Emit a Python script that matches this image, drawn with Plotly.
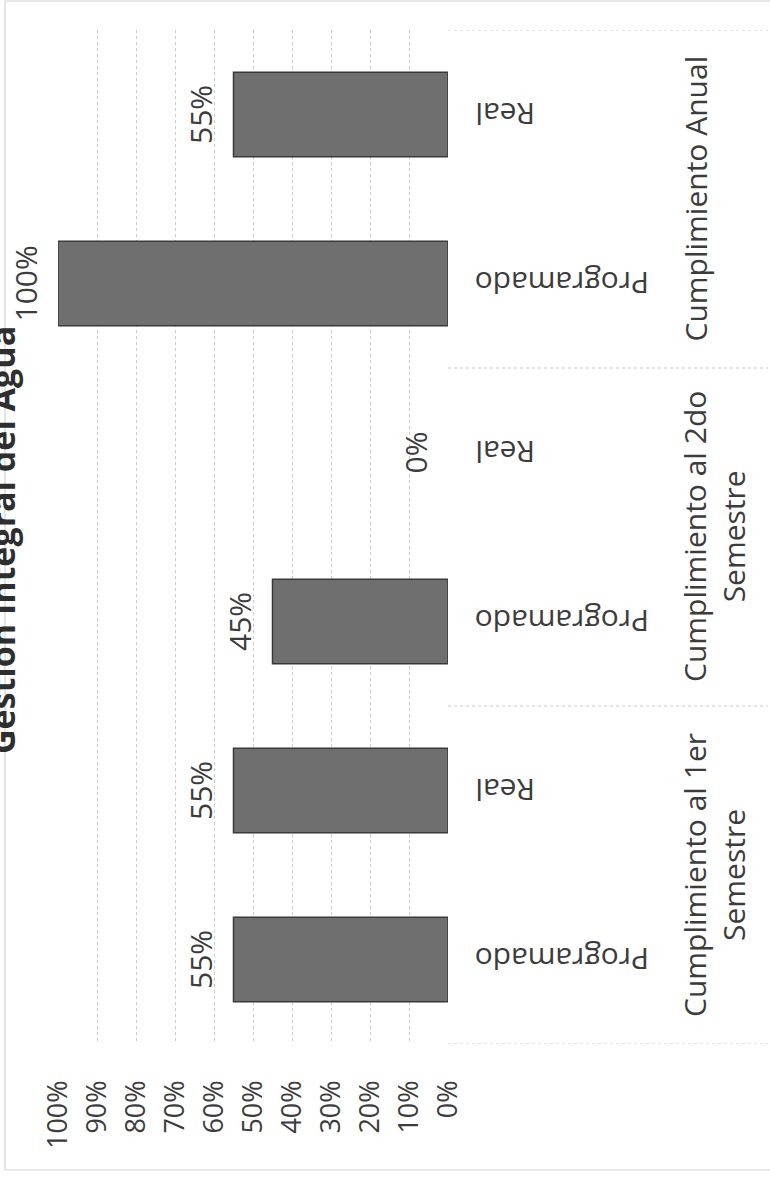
import plotly.graph_objects as go

# ---- data ----
group_labels = ["Cumplimiento al 1er<br>Semestre", "Cumplimiento al 2do<br>Semestre", "Cumplimiento Anual"]
series_names = ["Programado", "Real"]
programado = [0.55, 0.45, 1.00]
real = [0.55, 0.00, 0.55]
x_tick_values = [0.0, 0.1, 0.2, 0.3, 0.4, 0.5, 0.6, 0.7, 0.8, 0.9, 1.0]
x_tick_labels = ["0%", "10%", "20%", "30%", "40%", "50%", "60%", "70%", "80%", "90%", "100%"]
title_text = "Gestión Integral del Agua"

# ---- build category table ----
keys, vals, sers = [], [], []
for g, p, r in zip(group_labels, programado, real):
    for s, v in zip(series_names, (p, r)):
        keys.append(g + "|" + s)
        vals.append(v)
        sers.append(s)

TXT = "#3c3c3c"
GRID = "#cbcbcb"
FONT = "Open Sans"

W, H = 770, 1179
ML, MR, MT, MB = 58, 322, 30, 135
PW = W - ML - MR
PH = H - MT - MB


def px_x(p):
    return (p - ML) / PW


def px_y(p):
    return (H - MB - p) / PH


fig = go.Figure(
    go.Bar(
        x=vals,
        y=keys,
        orientation="h",
        width=0.5,
        marker=dict(
            color="#6f6f6f",
            line=dict(color="#3a3a3a", width=[1.5 if v > 0 else 0 for v in vals]),
        ),
        hoverinfo="skip",
        cliponaxis=False,
    )
)

annotations = []
# value labels
for k, v in zip(keys, vals):
    annotations.append(dict(
        x=v, y=k, xref="x", yref="y", text=f"{v:.0%}", showarrow=False,
        textangle=-90, xanchor="center", yanchor="middle", xshift=-33,
        font=dict(size=30, color=TXT, family=FONT),
    ))
# series (category) labels
for k, s in zip(keys, sers):
    annotations.append(dict(
        x=1, y=k, xref="paper", yref="y", text=s, showarrow=False,
        textangle=180, xanchor="left", yanchor="middle", xshift=25,
        font=dict(size=30, color=TXT, family=FONT),
    ))
# group labels
n_per = len(series_names)
for gi, g in enumerate(group_labels):
    center = gi * n_per + (n_per - 1) / 2
    annotations.append(dict(
        x=1, y=center, xref="paper", yref="y", text=g, showarrow=False,
        textangle=-90, xanchor="left", yanchor="middle", xshift=224,
        font=dict(size=30, color=TXT, family=FONT), align="center",
    ))
# title (partly cut at the left edge as in the scan)
annotations.append(dict(
    x=px_x(2), y=px_y(540), xref="paper", yref="paper", text="<b>" + title_text + "</b>",
    showarrow=False, textangle=-90, xanchor="center", yanchor="middle",
    font=dict(size=34, color="#2e2e2e", family=FONT),
))

shapes = []
# group separators in the category area
for b in range(len(group_labels) + 1):
    yb = b * n_per - 0.5
    shapes.append(dict(
        type="line", xref="paper", yref="y", x0=1, x1=px_x(768), y0=yb, y1=yb,
        line=dict(color=GRID, width=1, dash="dot"),
    ))
# outer frame
shapes.append(dict(
    type="rect", xref="paper", yref="paper",
    x0=px_x(5), x1=px_x(800), y0=px_y(1170), y1=px_y(1),
    line=dict(color="#d2d2d2", width=1.2),
))

fig.update_layout(
    width=W, height=H,
    margin=dict(l=ML, r=MR, t=MT, b=MB),
    paper_bgcolor="white", plot_bgcolor="white",
    showlegend=False,
    annotations=annotations,
    shapes=shapes,
    font=dict(family=FONT, color=TXT),
    xaxis=dict(
        range=[1.0, 0.0], tickvals=x_tick_values, ticktext=x_tick_labels,
        tickangle=-90, ticks="", ticklabelstandoff=30,
        tickfont=dict(size=27, color=TXT, family=FONT),
        showgrid=True, gridcolor=GRID, griddash="dot", gridwidth=1,
        zeroline=False, showline=False,
    ),
    yaxis=dict(
        type="category", categoryorder="array", categoryarray=keys,
        range=[-0.5, len(keys) - 0.5],
        showticklabels=False, showgrid=False, zeroline=False, showline=False, ticks="",
    ),
)

fig.write_html(
    "out.html",
    config={"displayModeBar": False},
    post_script="document.body.style.margin='0px';",
)
